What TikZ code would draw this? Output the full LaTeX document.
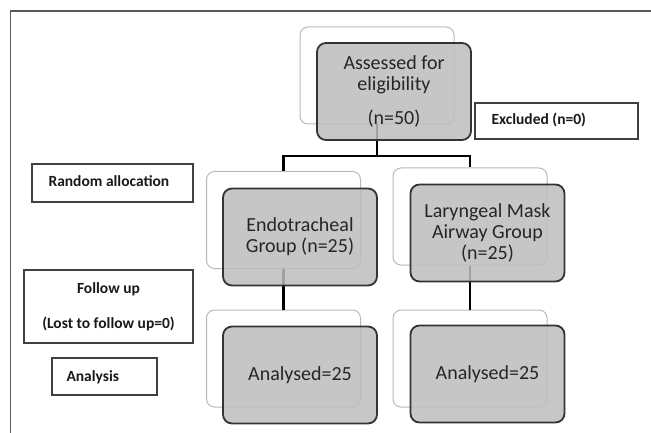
\documentclass[tikz,border=0pt]{standalone}
\usepackage{fontspec}
\setmainfont{Carlito}
\begin{document}
\begin{tikzpicture}[x=1pt,y=-1pt,
  backbox/.style={draw=gray!55, fill=white, line width=1pt, rounded corners=8pt,
    minimum width=154pt, minimum height=97pt, inner sep=0pt},
  frontbox/.style={draw=black!80, fill=gray!52, fill opacity=0.85, text opacity=1,
    line width=1.8pt, rounded corners=9pt, minimum width=154pt, minimum height=97pt,
    inner sep=0pt, align=center, text=black!85,
    font=\fontsize{20}{21}\selectfont},
  labelbox/.style={draw=black!75, line width=1.2pt, fill=white, inner sep=0pt,
    font=\fontsize{15.5}{18}\selectfont\bfseries, text=black!90},
  conn/.style={draw=black, line width=2.6pt, line join=miter}
]
\useasboundingbox (0,0) rectangle (651,433);
% frame
\draw[black!65, line width=1.5pt] (10.5,433) -- (10.5,11) -- (651,11);

% back boxes
\node[backbox] (Ab) at (377,75.5) {};
\node[backbox] (Eb) at (283.5,220) {};
\node[backbox] (Lb) at (470,216.5) {};
\node[backbox] (AEb) at (283.5,358.5) {};
\node[backbox] (ALb) at (470,358.5) {};

% connectors
\coordinate (junc) at (377,156);
\draw[conn] (Ab.south) -- (junc);
\draw[conn] (Eb.north) |- (junc) -| (Lb.north);
\draw[conn] (Eb.south) -- (AEb.north);
\draw[conn] (Lb.south) -- (ALb.north);

% front boxes
\node[frontbox] (A) at (394,91.5) {Assessed for\\eligibility\\[13pt](n=50)};
\node[frontbox] (E) at (300,237) {Endotracheal\\Group (n=25)};
\node[frontbox] (L) at (487.5,233) {Laryngeal Mask\\Airway Group\\(n=25)};
\node[frontbox] (AE) at (300,375) {Analysed=25};
\node[frontbox] (AL) at (487.5,374) {Analysed=25};

% side labels
\node[labelbox, minimum width=163pt, minimum height=36pt] (exc) at (556.5,121) {};
\node[anchor=west, font=\fontsize{15.5}{18}\selectfont\bfseries, text=black!90] (exct) at (488,120) {Excluded (n=0)};
\node[labelbox, minimum width=161pt, minimum height=38pt] (rnd) at (112.5,183) {};
\node[anchor=west, font=\fontsize{15.5}{18}\selectfont\bfseries, text=black!90] (rndt) at (45,181) {Random allocation};
\node[labelbox, minimum width=169pt, minimum height=73pt, align=center] (fol) at (108.5,306.5)
  {Follow up\\[17pt](Lost to follow up=0)};
\node[labelbox, minimum width=105pt, minimum height=37pt] (ana) at (104.5,376.5) {};
\node[anchor=west, font=\fontsize{15.5}{18}\selectfont\bfseries, text=black!90] (anat) at (63,377) {Analysis};
\end{tikzpicture}
\end{document}
